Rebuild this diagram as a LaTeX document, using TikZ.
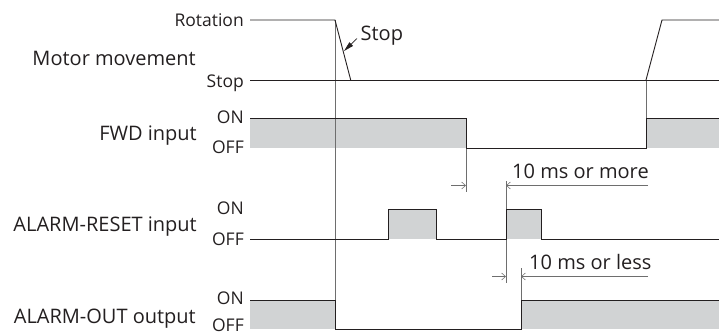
\documentclass[tikz,border=0pt]{standalone}
\usepackage{fontspec}
\setmainfont{Open Sans}
\usetikzlibrary{arrows.meta}
\definecolor{sig}{RGB}{35,31,32}
\definecolor{fillg}{RGB}{209,211,212}
\definecolor{extg}{RGB}{110,110,110}
\begin{document}
\begin{tikzpicture}[x=1pt,y=-1pt,
  sigline/.style={draw=sig,line width=0.9pt,line join=miter},
  ext/.style={draw=extg,line width=0.55pt},
  grayfill/.style={fill=fillg,draw=none},
  biglabel/.style={anchor=base east,font=\fontsize{20}{22}\selectfont,text=sig,inner sep=0pt},
  smalllabel/.style={anchor=base east,font=\fontsize{17.5}{19}\selectfont,text=sig,inner sep=0pt},
  dimtip/.style={-{Straight Barb[length=4pt,width=7pt]}}
]
\useasboundingbox (0,0) rectangle (719,333);

% labels
\node[smalllabel] (rot) at (244,26.5) {Rotation};
\node[smalllabel] (stopl) at (244,87.5) {Stop};
\node[biglabel] (mm) at (196,65) {Motor movement};
\node[smalllabel] (fon) at (244,123.5) {ON};
\node[smalllabel] (foff) at (244,153) {OFF};
\node[biglabel] (fwd) at (197,140) {FWD input};
\node[smalllabel] (aron) at (244,214) {ON};
\node[smalllabel] (aroff) at (244,245) {OFF};
\node[biglabel] (ar) at (197,231.5) {ALARM-RESET input};
\node[smalllabel] (aoon) at (244,304.5) {ON};
\node[smalllabel] (aooff) at (244,331.5) {OFF};
\node[biglabel] (ao) at (196,323) {ALARM-OUT output};
\node[biglabel,anchor=base west] (stopa) at (360.5,40) {Stop};
\node[biglabel,anchor=base west] (more) at (512,178) {10 ms or more};
\node[biglabel,anchor=base west] (less) at (529,269) {10 ms or less};

% gray fills
\fill[fillg] (250,118) rectangle (466,148);
\fill[fillg] (646,118) rectangle (719,148);
\fill[fillg] (388,209) rectangle (436,239);
\fill[fillg] (506,209) rectangle (541,239);
\fill[fillg] (250,300) rectangle (335,329);
\fill[fillg] (521,300) rectangle (719,329);

% extension lines
\draw[ext] (335,20) -- (335,300);
\draw[ext] (466,148) -- (466,192);
\draw[ext] (506,181) -- (506,283);
\draw[ext] (521,268) -- (521,300);
\draw[ext] (646,80) -- (646,118);

% dimensions
\coordinate (m1) at (451,185.5);
\coordinate (m2) at (466,185.5);
\coordinate (m3) at (506,185.5);
\coordinate (m4) at (648,185.5);
\draw[ext,dimtip] (m1) -- (m2);
\draw[ext,dimtip] (m4) -- (m3);
\coordinate (l1) at (492,276.5);
\coordinate (l2) at (506,276.5);
\coordinate (l3) at (521,276.5);
\coordinate (l4) at (648,276.5);
\draw[ext,dimtip] (l1) -- (l2);
\draw[ext,dimtip] (l4) -- (l3);

% motor
\draw[sigline] (250,20) -- (335,20) -- (350.7,80);
\draw[sigline] (250,80) -- (719,80);
\draw[sigline] (646,80) -- (662,20) -- (719,20);
\coordinate (stoptip) at (344,51);
\draw[draw=sig,line width=0.7pt,-{Triangle[length=10pt,width=5pt]}] ([xshift=-3.5pt,yshift=1.5pt]stopa.base west) -- (stoptip);

% FWD
\draw[sigline] (250,118) -- (466,118) -- (466,148) -- (646,148) -- (646,118) -- (719,118);
% ALARM-RESET
\draw[sigline] (250,239) -- (388,239) -- (388,209) -- (436,209) -- (436,239) -- (506,239) -- (506,209) -- (541,209) -- (541,239) -- (719,239);
% ALARM-OUT
\draw[sigline] (250,300) -- (335,300) -- (335,329) -- (521,329) -- (521,300) -- (719,300);
\end{tikzpicture}
\end{document}
